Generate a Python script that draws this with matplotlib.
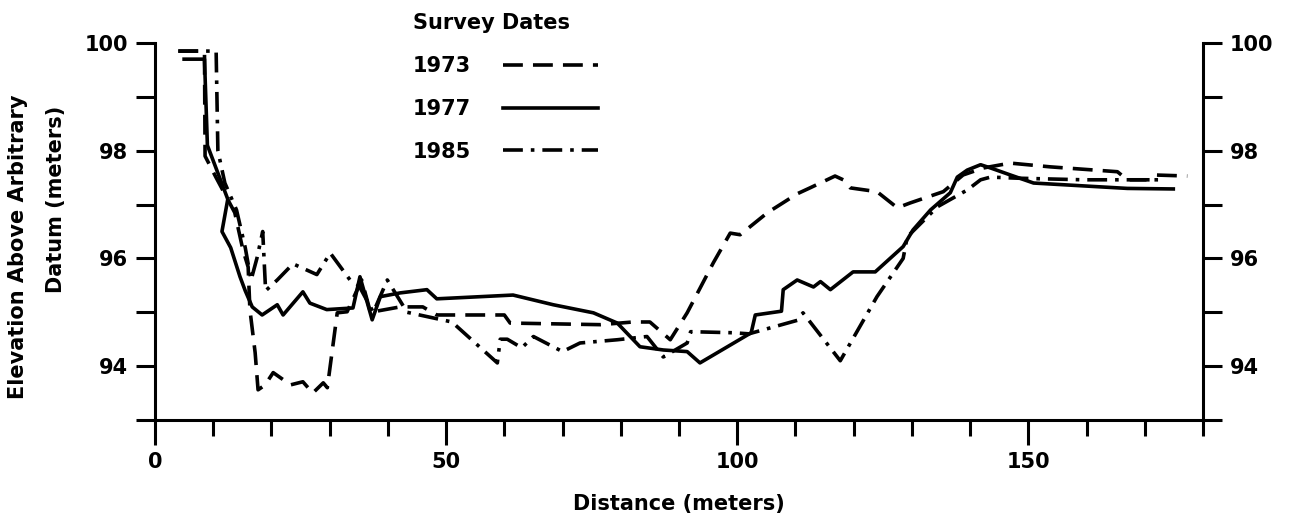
import numpy as np
import matplotlib.pyplot as plt
from matplotlib.ticker import FixedLocator, NullFormatter

# profile surveys, distance (m) vs elevation above arbitrary datum (m)
x1973 = [4, 8.5, 8.6, 10.5, 13.7, 15.1, 16.0, 16.3, 17.2, 17.7, 18.9, 20.3, 22.0, 23.2,
         25.4, 27.1, 28.9, 29.6, 31.3, 33.0, 35.5, 37.0, 42.1, 46.0, 48.4, 60.0, 61.0,
         76.5, 82.1, 85.0, 88.5, 91.4, 95.9, 98.8, 100.5, 105.2, 110.3, 112.5, 116.8,
         118.2, 119.4, 124.0, 127.5, 129.7, 135.4, 138.8, 142.3, 146.9, 153.8, 165.3,
         167.0, 171.0, 171.5, 177.3]
y1973 = [99.85, 99.85, 97.9, 97.5, 96.85, 96.16, 95.84, 95.05, 94.25, 93.56, 93.65, 93.88,
         93.75, 93.65, 93.71, 93.5, 93.69, 93.6, 94.99, 95.01, 95.6, 95.0, 95.1, 95.1,
         94.95, 94.95, 94.8, 94.77, 94.82, 94.82, 94.49, 94.99, 95.92, 96.47, 96.44,
         96.85, 97.2, 97.31, 97.53, 97.46, 97.31, 97.24, 96.94, 97.03, 97.24, 97.55,
         97.68, 97.77, 97.7, 97.61, 97.46, 97.46, 97.55, 97.53]

x1977 = [5, 8.5, 9.0, 12.5, 11.5, 13.0, 14.6, 15.5, 16.7, 18.4, 21.0, 22.0, 25.4, 26.6,
         29.5, 34.0, 35.2, 37.3, 38.7, 42.1, 46.7, 48.4, 61.5, 68.4, 75.3, 79.4, 83.3,
         87.3, 91.4, 93.6, 102.4, 103.1, 107.6, 107.9, 110.3, 113.1, 114.3, 116.0, 119.9,
         123.7, 128.5, 130.2, 133.2, 136.6, 137.8, 139.5, 141.8, 143.5, 146.9, 150.9,
         167.0, 174.9]
y1977 = [99.7, 99.7, 98.1, 97.1, 96.5, 96.2, 95.66, 95.4, 95.1, 94.95, 95.14, 94.95, 95.38,
         95.17, 95.05, 95.08, 95.66, 94.86, 95.29, 95.36, 95.42, 95.25, 95.32, 95.14,
         94.99, 94.8, 94.36, 94.3, 94.27, 94.06, 94.62, 94.95, 95.02, 95.42, 95.6, 95.47,
         95.57, 95.42, 95.75, 95.75, 96.22, 96.53, 96.9, 97.22, 97.51, 97.64, 97.74,
         97.68, 97.55, 97.4, 97.3, 97.29]

x1985 = [4, 10.5, 10.8, 12.0, 14.0, 15.5, 16.5, 17.5, 18.5, 19.0, 21.0, 23.7, 27.8, 30.1,
         33.5, 35.0, 37.5, 39.9, 41.6, 43.3, 51.0, 58.8, 59.3, 60.5, 63.0, 65.0, 70.0,
         73.0, 79.4, 84.5, 87.3, 91.4, 92.0, 99.3, 102.0, 110.3, 111.3, 117.7, 124.0,
         128.5, 129.2, 134.4, 139.5, 141.8, 143.5, 148.1, 159.5, 173.2]
y1985 = [99.85, 99.85, 98.0, 97.4, 96.9, 96.2, 95.6, 96.0, 96.5, 95.4, 95.6, 95.9, 95.7,
         96.1, 95.6, 95.5, 95.0, 95.6, 95.3, 95.0, 94.82, 94.06, 94.5, 94.5, 94.34, 94.55,
         94.27, 94.43, 94.49, 94.55, 94.17, 94.43, 94.64, 94.62, 94.6, 94.85, 94.99, 94.1,
         95.29, 96.0, 96.4, 96.96, 97.27, 97.46, 97.51, 97.49, 97.46, 97.46]

xticks_major = [0, 50, 100, 150]
xticks_minor = [10, 20, 30, 40, 60, 70, 80, 90, 110, 120, 130, 140, 160, 170, 180]
yticks_major = [94, 96, 98, 100]
yticks_minor = [93, 95, 97, 99]

plt.rcParams['font.family'] = 'DejaVu Sans'
plt.rcParams['font.weight'] = 'bold'
fs = 15

fig = plt.figure(figsize=(12.91, 5.23), dpi=100)
ax = fig.add_axes([155/1291, 1 - 420/523, 1048/1291, 377/523])

lw = 2.6
ax.plot(x1973, y1973, color='black', lw=lw, dashes=(5.5, 2.8), label='1973')
ax.plot(x1977, y1977, color='black', lw=lw, label='1977')
ax.plot(x1985, y1985, color='black', lw=lw, dashes=(5.5, 2.2, 1, 2.2), label='1985')

ax.set_xlim(0, 180)
ax.set_ylim(93, 100)
ax.spines['top'].set_visible(False)
for s in ['left', 'right', 'bottom']:
    ax.spines[s].set_linewidth(2.2)

ax.xaxis.set_major_locator(FixedLocator(xticks_major))
ax.xaxis.set_minor_locator(FixedLocator(xticks_minor))
ax.yaxis.set_major_locator(FixedLocator(yticks_major))
ax.yaxis.set_minor_locator(FixedLocator(yticks_minor))
ax.xaxis.set_minor_formatter(NullFormatter())
ax.yaxis.set_minor_formatter(NullFormatter())

ax.tick_params(axis='x', which='major', direction='out', length=18, width=2.2,
               labelsize=fs, pad=5)
ax.tick_params(axis='x', which='minor', direction='out', length=11.5, width=2.2)
ax.tick_params(axis='y', which='both', direction='out', length=13.5, width=2.2,
               left=True, right=True, labelleft=True, labelright=True)
ax.tick_params(axis='y', which='major', labelsize=fs, pad=6)

ax.set_xlabel('Distance (meters)', fontsize=fs, fontweight='bold', labelpad=16)

fig.text(18/1291, 1 - 247/523, 'Elevation Above Arbitrary', rotation=90,
         ha='center', va='center', fontsize=fs, fontweight='bold')
fig.text(56/1291, 1 - 199/523, 'Datum (meters)', rotation=90,
         ha='center', va='center', fontsize=fs, fontweight='bold')

leg = ax.legend(title='Survey Dates', loc='upper left',
                bbox_to_anchor=(413/1291, 1 - 13/523), bbox_transform=fig.transFigure,
                frameon=False, markerfirst=False, alignment='left',
                handlelength=4.6, handletextpad=1.5, labelspacing=1.1,
                borderpad=0, borderaxespad=0,
                prop={'size': fs, 'weight': 'bold'},
                title_fontproperties={'size': fs, 'weight': 'bold'})

fig.savefig('out.png', dpi=100)
